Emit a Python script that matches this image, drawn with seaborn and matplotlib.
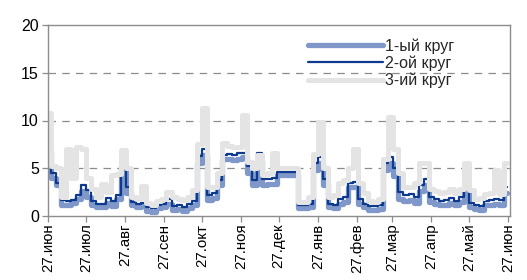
import matplotlib
matplotlib.use("Agg")
import matplotlib.pyplot as plt
import seaborn as sns
import pandas as pd
import numpy as np

# ---- data (4-day steps) ----
start = "2012-06-27"
n_points = 92
round1 = [6.8, 4.0, 3.2, 1.2, 1.2, 1.4, 1.8, 2.6, 2.0, 1.2, 0.9, 0.9, 1.4, 1.0, 1.8, 5.2,
          2.4, 1.1, 0.9, 1.0, 0.5, 0.4, 0.8, 0.9, 1.3, 0.6, 0.7, 0.5, 0.8, 1.2, 5.5, 6.4,
          1.7, 1.9, 3.2, 6.0, 6.0, 5.9, 6.0, 6.2, 4.5, 3.2, 5.8, 3.2, 3.3, 3.4, 4.3, 4.3,
          4.3, 4.3, 0.8, 0.8, 0.9, 4.8, 5.6, 3.2, 0.9, 0.8, 1.3, 1.5, 3.0, 3.0, 1.3, 0.9,
          0.6, 0.6, 0.7, 4.8, 5.6, 4.2, 1.8, 1.6, 1.7, 1.4, 2.6, 3.2, 1.5, 1.3, 1.1, 1.2,
          1.4, 1.1, 1.5, 2.8, 0.9, 0.7, 0.6, 1.1, 1.2, 1.3, 1.2, 2.4]
round2 = [8.2, 4.5, 3.5, 1.7, 1.6, 1.7, 2.2, 3.2, 2.7, 1.6, 1.3, 1.3, 1.9, 1.6, 2.2, 5.8,
          3.0, 1.5, 1.3, 1.4, 0.9, 0.8, 1.2, 1.3, 1.8, 1.0, 1.2, 0.9, 1.3, 1.6, 6.3, 7.0,
          2.2, 2.4, 3.8, 6.4, 6.5, 6.4, 6.6, 6.6, 5.2, 3.8, 6.6, 3.9, 3.9, 4.0, 4.6, 4.6,
          4.6, 4.6, 1.2, 1.2, 1.3, 5.5, 6.2, 3.9, 1.3, 1.2, 1.8, 2.0, 3.5, 3.6, 1.8, 1.3,
          1.0, 1.0, 1.1, 5.5, 6.2, 5.0, 2.5, 2.2, 2.3, 2.0, 3.2, 3.9, 2.0, 1.8, 1.6, 1.7,
          1.9, 1.6, 2.0, 3.5, 1.4, 1.1, 1.0, 1.6, 1.7, 1.8, 1.7, 3.0]
round3 = [10.8, 5.2, 5.0, 2.0, 7.0, 4.0, 7.2, 7.0, 4.0, 2.8, 2.0, 3.3, 2.5, 4.3, 4.4, 6.9,
          5.0, 2.0, 1.8, 3.1, 1.4, 1.2, 1.6, 1.8, 2.5, 2.0, 1.8, 1.7, 2.0, 2.7, 7.5, 11.3,
          3.0, 3.0, 4.5, 7.6, 7.3, 7.2, 7.2, 10.6, 5.7, 5.0, 6.4, 4.3, 4.5, 6.6, 5.0, 5.0,
          5.0, 5.0, 1.5, 1.5, 2.0, 6.5, 9.8, 5.0, 2.0, 2.2, 3.5, 3.8, 5.0, 7.0, 3.5, 2.4,
          1.6, 1.5, 1.8, 6.0, 10.4, 7.0, 4.5, 3.0, 3.0, 3.5, 5.5, 5.5, 2.8, 2.6, 2.4, 2.5,
          2.8, 2.4, 2.8, 5.5, 2.7, 1.8, 1.9, 2.3, 2.4, 4.8, 2.3, 5.6]
series_names = ["1-ый круг", "2-ой круг", "3-ий круг"]
month_labels = ["27.июн", "27.июл", "27.авг", "27.сен", "27.окт", "27.ноя", "27.дек",
                "27.янв", "27.фев", "27.мар", "27.апр", "27.май", "27.июн"]
title_text = "Загрузка по кругам (средняя по региону)"

# ---- styling ----
colors = ["#7F98C9", "#0D3A8E", "#E4E4E4"]
widths = [3.8, 1.6, 3.6]

sns.set_theme(style="white")
plt.rcParams["font.family"] = ["Liberation Sans", "DejaVu Sans"]

dates = pd.date_range(start, periods=n_points, freq="4D")
df = pd.DataFrame({"date": dates, series_names[0]: round1,
                   series_names[1]: round2, series_names[2]: round3})

fig = plt.figure(figsize=(5.27, 2.80), dpi=100)
ax = fig.add_axes([48 / 527, 1 - 216 / 280, (510 - 48) / 527, (216 - 25) / 280])

for name, c, w in zip(series_names, colors, widths):
    sns.lineplot(data=df, x="date", y=name, ax=ax, color=c, linewidth=w,
                 drawstyle="steps-mid", label=name)

t0 = pd.Timestamp(start)
ticks = [t0 + pd.DateOffset(months=k) for k in range(len(month_labels))]
ax.set_xlim(t0, ticks[-1] + pd.Timedelta(days=1.5))
ax.set_xticks(ticks)
ax.set_xticklabels(month_labels, rotation=90, fontsize=10.8)
ax.set_ylim(0, 20)
ax.set_yticks([0, 5, 10, 15, 20])
ax.set_yticklabels(["0", "5", "10", "15", "20"], fontsize=11.5)
ax.set_xlabel("")
ax.set_ylabel("")

for yv in [5, 10, 15]:
    ax.axhline(yv, color="#8C8C8C", linewidth=0.9, linestyle=(0, (6, 5)), zorder=0)

for s in ax.spines.values():
    s.set_visible(True)
    s.set_color("#8C8C8C")
    s.set_linewidth(1.0)

ax.tick_params(axis="both", which="major", length=4, width=0.9, color="#8C8C8C",
               direction="out", pad=2.5, labelcolor="black")
ax.tick_params(axis="x", bottom=True, pad=1.5)
ax.tick_params(axis="y", left=True)

leg = ax.legend(loc="upper left", bbox_to_anchor=(308 / 527, 1 - 38 / 280),
                bbox_transform=fig.transFigure, frameon=False, fontsize=11.5,
                handlelength=4.7, handletextpad=0.15, labelspacing=0.12,
                borderpad=0, borderaxespad=0)

fig.text(252 / 527, 1 + 3 / 280, title_text, ha="center", va="baseline",
         fontsize=11.5, fontweight="bold")

fig.savefig("out.png", dpi=100)
